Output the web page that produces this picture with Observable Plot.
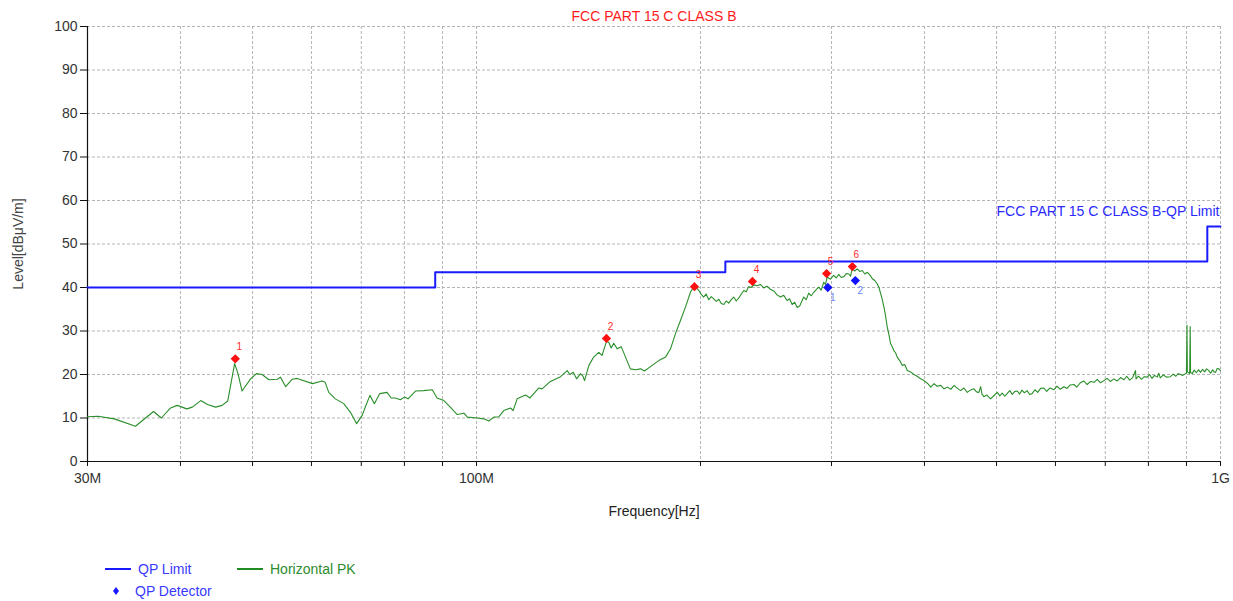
<!DOCTYPE html>
<html>
<head>
<meta charset="utf-8">
<script src="https://cdn.jsdelivr.net/npm/d3@7"></script>
<script src="https://cdn.jsdelivr.net/npm/@observablehq/plot@0.6"></script>
<style>
  html, body { margin: 0; padding: 0; background: #fff; }
  body { width: 1233px; height: 601px; overflow: hidden; font-family: "Liberation Sans", Arial, sans-serif; }
  #legend { position: relative; width: 1233px; height: 80px; font-size: 14px; }
  #legend .item { position: absolute; display: flex; align-items: center; white-space: nowrap; }
</style>
</head>
<body>
<div id="chart"></div>
<div id="legend"></div>
<script>
// ---- Data (frequencies in MHz, levels in dBµV/m) ----
const titleText = "FCC PART 15 C CLASS B";
const limitName = "FCC PART 15 C CLASS B-QP Limit";
const xLabel = "Frequency[Hz]";
const yLabel = "Level[dBμV/m]";

const xTicks = [30, 40, 50, 60, 70, 80, 90, 100, 200, 300, 400, 500, 600, 700, 800, 900, 1000];
const xTickLabels = {30: "30M", 100: "100M", 1000: "1G"};
const yTicks = [0, 10, 20, 30, 40, 50, 60, 70, 80, 90, 100];

const limitFreq = [30, 88, 216, 960, 1000];
const limitLevel = [40, 43.5, 46, 54, 54];

const pkFreq = [
  30, 31, 32.6, 34.8, 36.8, 37.7, 38.8, 39.6, 40.8, 41.5, 42.6, 43.5, 44.6, 45.5, 46.3, 47.3, 47.8, 48.4, 49.7, 50.6,
  51.5, 52.6, 54.0, 54.5, 55.4, 56.5, 57.4, 60.2, 62.0, 62.6, 63.3, 64.6, 66.3, 67.7, 69.0, 70.2, 70.9, 71.9, 72.9, 74.1,
  75.8, 76.8, 77.8, 79.0, 80.0, 80.9, 82.8, 84.9, 87.2, 88.5, 90.4, 92.2, 94.2, 96.2, 97.2, 100.2, 102.3, 103.9, 105.5, 107.2,
  108.8, 111.1, 112.0, 113.4, 116.4, 118.0, 121.3, 122.5, 125.7, 129.7, 132.4, 133.5, 134.9, 136.3, 138.0, 139.0, 139.7, 141.6, 143.7, 146.0,
  147.5, 149.5, 150.6, 151.7, 152.9, 154.6, 156.5, 158.6, 161.0, 163.6, 166.1, 168.2, 171.3, 175.8, 179.5, 182.3, 185.1, 188.0, 190.9, 193.9,
  196.3, 199.0, 200.5, 202.0, 203.5, 205.2, 206.8, 208.4, 210.0, 211.7, 213.3, 215.0, 216.6, 218.3, 220.0, 221.7, 223.4, 225.2, 227.0, 228.7,
  230.4, 232.2, 234.0, 235.9, 238.3, 240.8, 243.2, 245.7, 248.3, 250.9, 253.5, 256.2, 258.8, 261.5, 263.5, 265.6, 267.7, 269.8, 272.0, 275.3,
  277.4, 279.6, 281.8, 284.0, 286.2, 288.4, 290.6, 292.9, 294.5, 296.0, 299.0, 302.0, 304.4, 306.8, 309.2, 311.7, 314.1, 316.6, 318.2, 319.9,
  322.4, 324.9, 327.4, 330.0, 332.6, 335.2, 337.8, 340.4, 343.0, 345.7, 347.5, 349.3, 351.1, 352.9, 354.7, 356.5, 358.3, 360.2, 362.0, 363.9,
  365.8, 367.7, 370.5, 373.4, 376.3, 379.3, 383.2, 387.1, 391.1, 395.2, 399.4, 403.6, 408, 412, 416, 420.6, 425, 429.4, 434, 438.4,
  443, 447.4, 452, 456.7, 461, 466.2, 470, 473.5, 476, 478, 480.7, 485, 490.8, 495, 501.1, 505, 509, 513, 516.6, 521,
  525, 529, 533.2, 537, 541, 545, 549.6, 554, 558.2, 563, 568, 573, 578.8, 584, 590, 597.1, 603, 609, 615.9, 622,
  628, 635.5, 641, 648, 655.3, 662, 669, 676, 683, 690, 697, 704, 711, 719, 726, 734, 741.6, 748, 755, 762,
  768.7, 770, 776, 783, 790, 797, 803, 809, 815, 822.2, 826, 830, 838, 846, 856.5, 864, 871, 877, 883.5, 890,
  897.4, 900, 901.5, 902.5, 909, 910.5, 911.5, 916.2, 922, 928, 934, 940, 946, 952, 958, 964.5, 970, 976, 980, 985,
  990, 995, 1000
];
const pkLevel = [
  10.3, 10.4, 9.8, 8.1, 11.5, 10.0, 12.3, 12.9, 12.1, 12.5, 14.0, 13.1, 12.5, 12.9, 13.9, 22.5, 20.2, 16.2, 19.0, 20.2,
  20.0, 18.8, 18.9, 19.4, 17.2, 18.9, 19.1, 17.9, 18.5, 18.2, 15.9, 14.4, 13.3, 11.3, 8.7, 10.6, 12.6, 15.2, 13.3, 15.6,
  15.9, 14.6, 14.6, 14.2, 14.8, 14.4, 16.2, 16.3, 16.5, 14.6, 14.0, 12.5, 10.8, 11.1, 10.2, 10.0, 9.8, 9.3, 10.2, 10.3,
  11.7, 12.3, 11.7, 14.4, 15.3, 14.6, 16.9, 16.7, 18.4, 19.5, 20.9, 20.0, 20.5, 19.0, 20.2, 19.6, 18.6, 22.1, 24.0, 25.1,
  24.4, 27.6, 27.4, 26.1, 27.2, 25.9, 26.4, 24.0, 21.3, 21.1, 21.3, 20.8, 21.8, 23.2, 24.0, 25.9, 29.4, 32.4, 35.5, 38.9,
  40.5, 39.3, 38.4, 37.8, 38.5, 37.2, 37.9, 37.4, 36.8, 37.3, 36.3, 36.1, 36.9, 36.4, 37.2, 37.8, 36.9, 37.6, 38.5, 39.3,
  39.0, 40.2, 40.0, 40.6, 40.4, 40.7, 39.9, 40.3, 39.6, 39.2, 38.3, 37.8, 38.2, 37.0, 37.4, 36.1, 36.6, 35.4, 35.8, 37.8,
  37.2, 38.7, 38.1, 38.9, 39.5, 40.1, 39.4, 41.2, 40.7, 42.4, 41.9, 42.8, 42.2, 43.0, 42.3, 42.5, 43.2, 43.1, 42.6, 44.3,
  43.8, 44.3, 43.7, 43.9, 43.1, 43.5, 42.9, 42.0, 41.6, 40.8, 40.0, 38.6, 37.2, 35.5, 33.4, 30.9, 29.2, 27.1, 26.4, 25.5,
  25.0, 24.0, 23.2, 22.1, 22.3, 20.9, 20.6, 20.0, 19.6, 19.0, 18.6, 18.0, 17.1, 17.9, 17.3, 17.5, 16.7, 17.1, 16.6, 17.5,
  16.8, 16.3, 16.9, 15.9, 16.4, 16.7, 16.0, 15.9, 17.2, 15.5, 14.9, 15.3, 14.4, 15.0, 15.9, 15.1, 15.7, 15.0, 15.6, 16.3,
  15.4, 16.1, 16.2, 15.5, 16.4, 15.8, 16.3, 15.4, 15.6, 16.5, 15.9, 16.8, 16.9, 16.1, 16.9, 16.5, 17.3, 16.6, 17.2, 16.8,
  17.6, 17.7, 17.1, 18.1, 18.5, 17.7, 18.4, 18.2, 18.9, 18.1, 18.6, 19.1, 18.4, 19.0, 18.5, 19.3, 18.8, 19.6, 18.7, 19.3,
  20.9, 19.0, 19.6, 18.9, 19.5, 19.4, 20.0, 19.1, 19.8, 19.4, 20.3, 19.2, 19.9, 19.4, 19.5, 20.1, 19.6, 20.2, 20.0, 19.8,
  20.2, 20.3, 31.3, 20.6, 20.2, 31.0, 20.5, 20.2, 21.0, 20.4, 21.1, 20.5, 21.2, 20.6, 21.3, 20.9, 20.3, 21.1, 20.6, 20.5,
  21.4, 21.3, 20.9
];

const pkMarkFreq = [47.4, 149.5, 196.3, 234.9, 295.5, 320.0];
const pkMarkLevel = [23.6, 28.3, 40.2, 41.4, 43.2, 44.8];
const pkMarkId = ["1", "2", "3", "4", "5", "6"];

const qpFreq = [296.6, 323.0];
const qpLevel = [40.0, 41.6];
const qpId = ["1", "2"];

const legendItems = [
  {name: "QP Limit", kind: "line", color: "#1a1aff", text: "#3a3aff"},
  {name: "Horizontal PK", kind: "line", color: "#228b22", text: "#2e8b2e"},
  {name: "QP Detector", kind: "diamond", color: "#1a1aff", text: "#3a3aff"}
];

// ---- Build tables ----
const pk = pkFreq.map((f, i) => ({f, v: pkLevel[i]}));
const limit = limitFreq.map((f, i) => ({f, v: limitLevel[i]}));
const pkMarks = pkMarkFreq.map((f, i) => ({f, v: pkMarkLevel[i], id: pkMarkId[i]}));
const qpMarks = qpFreq.map((f, i) => ({f, v: qpLevel[i], id: qpId[i]}));

const font = "'Liberation Sans', Arial, sans-serif";

const chart = Plot.plot({
  width: 1233,
  height: 521,
  marginLeft: 87,
  marginRight: 13,
  marginTop: 26,
  marginBottom: 60,
  style: {fontFamily: font, fontSize: "14px", background: "#fff", color: "#333"},
  x: {type: "log", domain: [30, 1000]},
  y: {domain: [0, 100]},
  marks: [
    Plot.gridX(xTicks.filter(d => d !== 30), {stroke: "#b5b5b5", strokeOpacity: 1, strokeDasharray: "3,2"}),
    Plot.gridY(yTicks.filter(d => d !== 0), {stroke: "#b5b5b5", strokeOpacity: 1, strokeDasharray: "3,2"}),
    Plot.axisX(xTicks, {tickFormat: d => xTickLabels[d] ?? "", tickSize: 5, tickPadding: 7, label: null, stroke: "#111", fill: "#333", fontSize: 14}),
    Plot.axisY(yTicks, {tickSize: 7, tickPadding: 3, label: null, stroke: "#111", fill: "#333", fontSize: 14}),
    Plot.ruleX([30], {stroke: "#111", strokeWidth: 1.2}),
    Plot.ruleY([0], {stroke: "#111", strokeWidth: 1.2}),
    Plot.line(limit, {x: "f", y: "v", curve: "step-after", stroke: "#1a1aff", strokeWidth: 2}),
    Plot.line(pk, {x: "f", y: "v", stroke: "#2a8f2a", strokeWidth: 1.1}),
    Plot.dot(pkMarks, {x: "f", y: "v", symbol: "diamond2", r: 4.2, fill: "#ff1010", stroke: "none"}),
    Plot.text(pkMarks, {x: "f", y: "v", text: "id", dx: 4, dy: -12, fill: "#ff2a2a", fontSize: 10}),
    Plot.dot(qpMarks, {x: "f", y: "v", symbol: "diamond2", r: 4.2, fill: "#1010ff", stroke: "none"}),
    Plot.text(qpMarks, {x: "f", y: "v", text: "id", dx: 5, dy: 10, fill: "#6d86ff", fontSize: 10}),
    Plot.text([limitName], {x: limitFreq[limitFreq.length - 1], y: limitLevel[limitLevel.length - 1], dy: -15, dx: -1, textAnchor: "end", fill: "#2a2aff", fontSize: 14}),
    Plot.text([titleText], {frameAnchor: "top", lineAnchor: "middle", textAnchor: "middle", dy: -10, fill: "#ff1a1a", fontSize: 14}),
    Plot.text([xLabel], {frameAnchor: "bottom", lineAnchor: "middle", textAnchor: "middle", dy: 50, fill: "#222", fontSize: 14}),
    Plot.text([yLabel], {frameAnchor: "left", lineAnchor: "middle", textAnchor: "middle", dx: -69, rotate: -90, fill: "#444", fontSize: 14, letterSpacing: "0.5px"})
  ]
});
document.getElementById("chart").appendChild(chart);

// ---- Legend (HTML below the SVG) ----
const legend = document.getElementById("legend");
const legendPos = [
  {left: 104, top: 40},
  {left: 236, top: 40},
  {left: 104, top: 62}
];
legendItems.forEach((it, i) => {
  const el = document.createElement("div");
  el.className = "item";
  el.style.left = legendPos[i].left + "px";
  el.style.top = legendPos[i].top + "px";
  const sw = it.kind === "line"
    ? `<svg width="28" height="14"><line x1="1" y1="7" x2="27" y2="7" stroke="${it.color}" stroke-width="2"/></svg>`
    : `<svg width="28" height="14"><path d="M12,3 L15,7 L12,11 L9,7 Z" fill="${it.color}"/></svg>`;
  el.innerHTML = sw + `<span style="color:${it.text};margin-left:${it.kind === "line" ? 6 : 3}px">${it.name}</span>`;
  legend.appendChild(el);
});
</script>
</body>
</html>
